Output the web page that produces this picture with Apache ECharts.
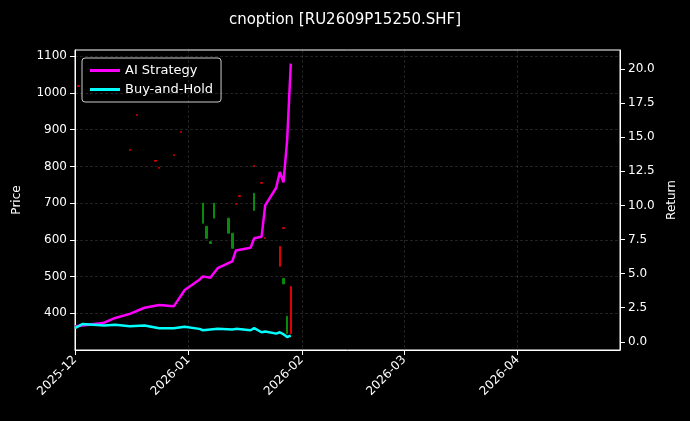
<!DOCTYPE html>
<html>
<head>
<meta charset="utf-8">
<script src="https://cdn.jsdelivr.net/npm/echarts@6/dist/echarts.min.js"></script>
<style>html,body{margin:0;background:#000}#main{width:690px;height:421px}</style>
</head>
<body>
<div id="main"></div>
<script>
// 策略收益 / 持有收益（右轴）
var lineDates = ['2025-12-01','2025-12-03','2025-12-09','2025-12-12','2025-12-16','2025-12-20','2025-12-24','2025-12-28','2025-12-31','2026-01-04','2026-01-05','2026-01-07','2026-01-09','2026-01-13','2026-01-14','2026-01-18','2026-01-19','2026-01-21','2026-01-22','2026-01-25','2026-01-26','2026-01-27','2026-01-28','2026-01-29'];
var aiReturn = [1.15,1.2,1.4,1.75,2.05,2.5,2.7,2.6,3.8,4.55,4.8,4.7,5.4,5.9,6.7,6.9,7.6,7.7,10.0,11.3,12.45,11.7,14.8,20.4];
var holdReturn = [1.0,1.3,1.2,1.25,1.15,1.2,1.0,1.0,1.1,0.95,0.85,0.9,0.95,0.9,0.95,0.85,1.0,0.7,0.75,0.6,0.7,0.55,0.35,0.45];

// K线：[日期, 开, 收, 低, 高]
var candleUp = [
  ['2026-01-05',700,645,645,700],['2026-01-06',637,604,604,637],['2026-01-07',595,590,590,595],
  ['2026-01-08',700,659,659,700],['2026-01-12',659,618,618,659],['2026-01-13',618,577,577,618],
  ['2026-01-19',727,680,680,727],['2026-01-27',495,480,480,495],['2026-01-28',392,345,345,392]
];
var candleDown = [
  ['2026-01-26',528,582,528,582],['2026-01-29',345,473,345,473],
  ['2025-12-02',1018,1020,1018,1020],['2025-12-18',939,941,939,941],['2025-12-16',844,846,844,846],
  ['2025-12-23',814,816,814,816],['2025-12-24',795,797,795,797],['2025-12-28',830,832,830,832],
  ['2025-12-30',893,895,893,895],['2026-01-14',697,699,697,699],['2026-01-15',718,720,718,720],
  ['2026-01-21',754,756,754,756],['2026-01-19',800,802,800,802],['2026-01-22',604,606,604,606],['2026-01-27',631,633,631,633]
];
var priceTicks = [400,500,600,700,800,900,1000,1100];
var returnTicks = [0,2.5,5,7.5,10,12.5,15,17.5,20];
var monthTicks = ['2025-12-01','2026-01-01','2026-02-01','2026-03-01','2026-04-01'];

function ts(d){ return Date.parse(d + 'T00:00:00Z'); }
function pair(d, v){ return d.map(function(x,i){ return [ts(x), v[i]]; }); }
function kline(rows){ return rows.map(function(r){ return [ts(r[0]), r[1], r[2], r[3], r[4]]; }); }

var chart = echarts.init(document.getElementById('main'));
var white = '#fff', grid = 'rgba(255,255,255,0.22)';

chart.setOption({
  backgroundColor: '#000',
  animation: false,
  title: {text: 'cnoption [RU2609P15250.SHF]', left: 'center', top: 8,
    textStyle: {color: white, fontSize: 15, fontWeight: 'normal', fontFamily: 'DejaVu Sans'}},
  legend: {left: 82, top: 58, orient: 'vertical', itemGap: 6, itemWidth: 30, itemHeight: 3,
    borderColor: '#ccc', borderWidth: 1, borderRadius: 3, padding: [6, 8],
    textStyle: {color: white, fontSize: 13, fontFamily: 'DejaVu Sans'},
    data: [{name: 'AI Strategy', icon: 'rect'}, {name: 'Buy-and-Hold', icon: 'rect'}]},
  grid: {left: 75, right: 70, top: 50, bottom: 71, show: true, borderColor: white, borderWidth: 1},
  xAxis: {type: 'value', min: ts('2025-12-01'), max: ts('2026-04-29'),
    axisLine: {onZero: false, lineStyle: {color: white}},
    axisTick: {lineStyle: {color: white}, customValues: monthTicks.map(ts)},
    axisLabel: {color: white, fontSize: 12, rotate: 45, fontFamily: 'DejaVu Sans',
      customValues: monthTicks.map(ts),
      formatter: function(v){ return new Date(v).toISOString().slice(0, 7); }},
    splitLine: {show: true, lineStyle: {color: grid, width: 0.6, type: [3, 2]}}},
  yAxis: [
    {type: 'value', min: 300, max: 1117, name: 'Price', nameLocation: 'middle', nameGap: 52,
      nameTextStyle: {color: white, fontSize: 12, fontFamily: 'DejaVu Sans'},
      axisLine: {show: true, onZero: false, lineStyle: {color: white}},
      axisTick: {show: true, customValues: priceTicks},
      axisLabel: {color: white, fontSize: 12, customValues: priceTicks, fontFamily: 'DejaVu Sans',
        formatter: function(v){ return String(v); }},
      splitLine: {show: true, lineStyle: {color: grid, width: 0.6, type: [3, 2]}}},
    {type: 'value', min: -0.6, max: 21.4, name: 'Return', nameLocation: 'middle', nameGap: 45,
      nameTextStyle: {color: white, fontSize: 12, fontFamily: 'DejaVu Sans'},
      axisLine: {show: true, onZero: false, lineStyle: {color: white}},
      axisTick: {show: true, customValues: returnTicks},
      axisLabel: {color: white, fontSize: 12, customValues: returnTicks, fontFamily: 'DejaVu Sans',
        formatter: function(v){ return v.toFixed(1); }},
      splitLine: {show: false}}
  ],
  series: [
    {name: 'up', type: 'candlestick', barMaxWidth: 2, data: kline(candleUp),
      itemStyle: {color: '#0a8a0a', color0: '#0a8a0a', borderColor: '#0a8a0a', borderColor0: '#0a8a0a'}},
    {name: 'down', type: 'candlestick', barMaxWidth: 2, data: kline(candleDown),
      itemStyle: {color: '#e00000', color0: '#e00000', borderColor: '#e00000', borderColor0: '#e00000'}},
    {name: 'AI Strategy', type: 'line', yAxisIndex: 1, showSymbol: false, data: pair(lineDates, aiReturn),
      lineStyle: {color: '#ff00ff', width: 2.5}, itemStyle: {color: '#ff00ff'}},
    {name: 'Buy-and-Hold', type: 'line', yAxisIndex: 1, showSymbol: false, data: pair(lineDates, holdReturn),
      lineStyle: {color: '#00ffff', width: 2.5}, itemStyle: {color: '#00ffff'}}
  ]
});
</script>
</body>
</html>
